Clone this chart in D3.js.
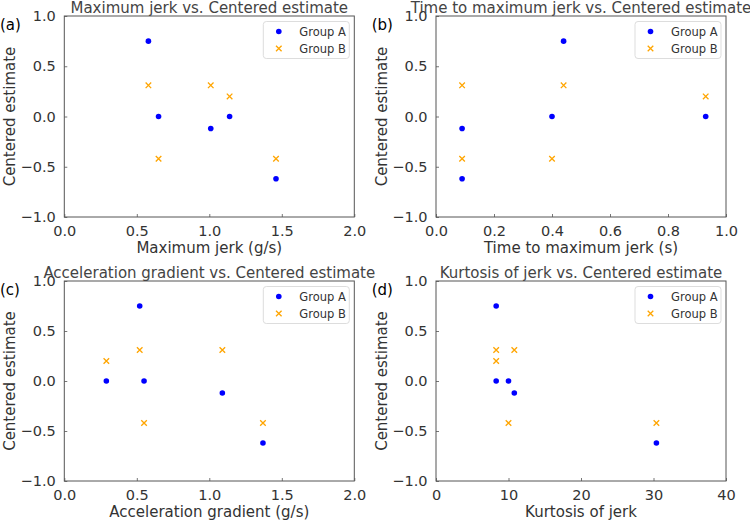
<!DOCTYPE html>
<html>
<head>
    <meta charset="utf-8" />
    <script src="https://d3js.org/d3.v7.min.js"></script>
    <style>
        body { margin: 0; background: #fff; }
        svg { font-family: "DejaVu Sans", sans-serif; }
        .tick line { stroke: #777; }
        .frame { fill: none; stroke: #555; stroke-width: 1; }
        .title { fill: #444; font-size: 15px; }
        .axis-label { fill: #333; font-size: 15px; }
        .panel-label { fill: #000; font-size: 15px; }
        .legend text { fill: #333; font-size: 11.5px; }
    </style>
</head>
<body>
    <svg width="750" height="522"></svg>
    <script>
        // centered estimate per subject, both groups
        var estA = [0.75, 0.00, -0.12, 0.00, -0.62];
        var estB = [0.31, -0.42, 0.31, 0.20, -0.42];

        // predictor values per subject
        var maxJerk = [0.58, 0.65, 1.01, 1.14, 1.46];
        var timeToMax = [0.44, 0.40, 0.09, 0.93, 0.09];
        var accGrad = [0.52, 0.55, 1.09, 0.29, 1.37];
        var kurtosis = [8.3, 10.0, 10.8, 8.3, 30.4];

        var yTicks = [-1.0, -0.5, 0.0, 0.5, 1.0];
        var xTicksG = [0, 0.5, 1.0, 1.5, 2.0];
        var xTicksT = [0, 0.2, 0.4, 0.6, 0.8, 1.0];
        var xTicksK = [0, 10, 20, 30, 40];

        var panels = [
            { tag: "(a)", title: "Maximum jerk vs. Centered estimate", xlab: "Maximum jerk (g/s)",
              xs: maxJerk, dom: [0, 2], ticks: xTicksG, fmt: ".1f", left: 64.3, top: 16, bottom: 217 },
            { tag: "(b)", title: "Time to maximum jerk vs. Centered estimate", xlab: "Time to maximum jerk (s)",
              xs: timeToMax, dom: [0, 1], ticks: xTicksT, fmt: ".1f", left: 436, top: 16, bottom: 217 },
            { tag: "(c)", title: "Acceleration gradient vs. Centered estimate", xlab: "Acceleration gradient (g/s)",
              xs: accGrad, dom: [0, 2], ticks: xTicksG, fmt: ".1f", left: 64.3, top: 281, bottom: 481 },
            { tag: "(d)", title: "Kurtosis of jerk vs. Centered estimate", xlab: "Kurtosis of jerk",
              xs: kurtosis, dom: [0, 40], ticks: xTicksK, fmt: "d", left: 436, top: 281, bottom: 481 }
        ];

        var plotW = 290;
        var svg = d3.select("svg");

        // matplotlib-like tick text
        function styleTicks(a) {
            a.select(".domain").remove();
            a.attr("font-family", null).attr("font-size", null);
            a.selectAll(".tick text")
                .style("font-family", "'DejaVu Sans', sans-serif")
                .style("font-size", "14.5px")
                .style("fill", "#333");
        }

        panels.forEach(function (p) {
            var x = d3.scaleLinear().domain(p.dom).range([p.left, p.left + plotW]);
            var y = d3.scaleLinear().domain([-1, 1]).range([p.bottom, p.top]);
            var g = svg.append("g");

            // axes with inward ticks
            g.append("g")
                .attr("transform", "translate(0," + p.bottom + ")")
                .call(d3.axisBottom(x).tickValues(p.ticks).tickFormat(d3.format(p.fmt))
                    .tickSizeInner(-3).tickSizeOuter(0).tickPadding(8.5))
                .call(styleTicks);

            g.append("g")
                .attr("transform", "translate(" + p.left + ",0)")
                .call(d3.axisLeft(y).tickValues(yTicks).tickFormat(d3.format(".1f"))
                    .tickSizeInner(-3).tickSizeOuter(0).tickPadding(8.5))
                .call(styleTicks);

            g.append("rect")
                .attr("class", "frame")
                .attr("x", p.left)
                .attr("y", p.top)
                .attr("width", plotW)
                .attr("height", p.bottom - p.top);

            // points
            var pts = p.xs.map(function (v, i) { return { x: v, a: estA[i], b: estB[i] }; });

            g.selectAll(".dotA")
                .data(pts)
                .enter().append("circle")
                .attr("cx", function (d) { return x(d.x); })
                .attr("cy", function (d) { return y(d.a); })
                .attr("r", 2.8)
                .attr("fill", "#0000ff");

            g.selectAll(".crossB")
                .data(pts)
                .enter().append("path")
                .attr("transform", function (d) { return "translate(" + x(d.x) + "," + y(d.b) + ")"; })
                .attr("d", d3.symbol().type(d3.symbolTimes).size(22))
                .attr("fill", "none")
                .attr("stroke", "#ffa500")
                .attr("stroke-width", 1.3);

            // texts
            g.append("text")
                .attr("class", "title")
                .attr("x", p.left + plotW / 2)
                .attr("y", p.top - 3.5)
                .attr("text-anchor", "middle")
                .text(p.title);

            g.append("text")
                .attr("class", "axis-label")
                .attr("x", p.left + plotW / 2)
                .attr("y", p.bottom + 36)
                .attr("text-anchor", "middle")
                .text(p.xlab);

            g.append("text")
                .attr("class", "axis-label")
                .attr("transform", "translate(" + (p.left - 49) + "," + ((p.top + p.bottom) / 2) + ") rotate(-90)")
                .attr("text-anchor", "middle")
                .text("Centered estimate");

            g.append("text")
                .attr("class", "panel-label")
                .attr("x", p.left - 64.3)
                .attr("y", p.top + 14)
                .text(p.tag);

            // legend
            var lg = g.append("g")
                .attr("class", "legend")
                .attr("transform", "translate(" + (p.left + plotW - 91) + "," + (p.top + 5.5) + ")");

            lg.append("rect")
                .attr("width", 86)
                .attr("height", 37)
                .attr("rx", 3)
                .attr("fill", "#fff")
                .attr("stroke", "#ddd");

            lg.append("circle")
                .attr("cx", 15.5)
                .attr("cy", 10)
                .attr("r", 2.8)
                .attr("fill", "#0000ff");

            lg.append("path")
                .attr("transform", "translate(15.5,27)")
                .attr("d", d3.symbol().type(d3.symbolTimes).size(22))
                .attr("fill", "none")
                .attr("stroke", "#ffa500")
                .attr("stroke-width", 1.3);

            lg.append("text").attr("x", 36).attr("y", 10).attr("dy", "0.35em").text("Group A");
            lg.append("text").attr("x", 36).attr("y", 27).attr("dy", "0.35em").text("Group B");
        });
    </script>
</body>
</html>
